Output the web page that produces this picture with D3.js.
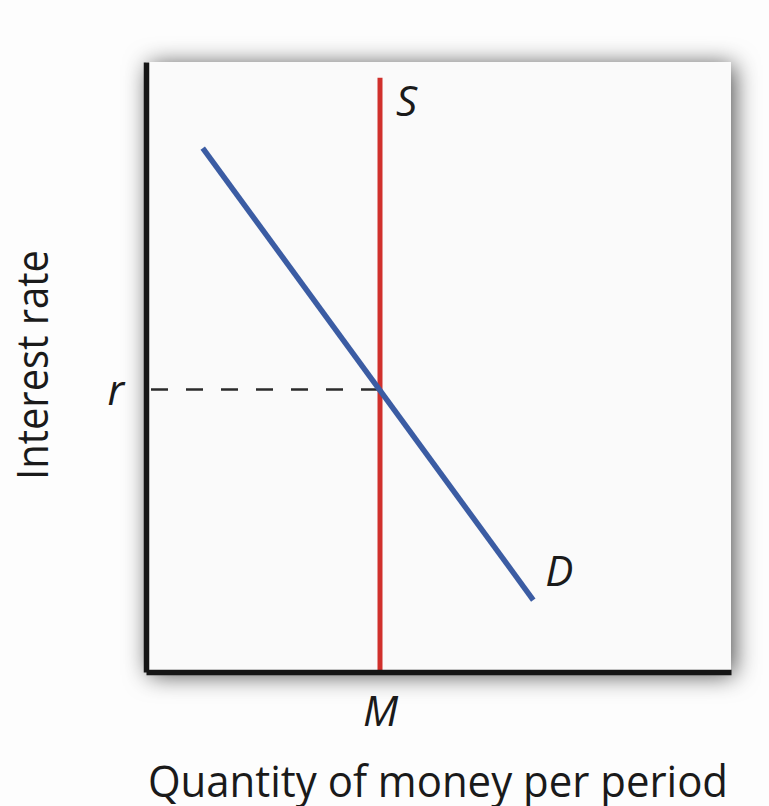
<!DOCTYPE html>
<html>
<head>
<meta charset="utf-8">
<script src="https://cdn.jsdelivr.net/npm/d3@7"></script>
<style>
  html, body { margin: 0; padding: 0; background: #fdfdfd; }
  svg { display: block; }
  text { font-family: "Open Sans", "Noto Sans", sans-serif; fill: #1a1a1a; }
  .lbl { font-style: italic; font-size: 42px; }
</style>
</head>
<body>
<div id="chart"></div>
<script>
// curve data (0-100 units on both axes)
var supplyX = [40, 40];
var supplyY = [0, 97.4];
var demandX = [9.7, 66.2];
var demandY = [85.9, 11.8];
var eqQuantity = 40;
var eqRate = 46.3;
var curveLabels = ["S", "D"];
var tickLabels = { x: "M", y: "r" };
var axisTitles = ["Quantity of money per period", "Interest rate"];

var W = 769, H = 806;
var plotLeft = 146, plotRight = 731, plotTop = 62, plotBottom = 672;

var svg = d3.select("#chart").append("svg")
	.attr("width", W)
	.attr("height", H);

var defs = svg.append("defs");
var f = defs.append("filter").attr("id", "shadow")
	.attr("x", "-25%").attr("y", "-25%").attr("width", "150%").attr("height", "150%");
f.append("feDropShadow")
	.attr("dx", 3).attr("dy", 3)
	.attr("stdDeviation", 12)
	.attr("flood-color", "#000")
	.attr("flood-opacity", 0.72);

var x = d3.scaleLinear().domain([0, 100]).range([plotLeft, plotRight]);
var y = d3.scaleLinear().domain([0, 100]).range([plotBottom, plotTop]);

// panel with drop shadow
svg.append("rect")
	.attr("x", x(0))
	.attr("y", y(100))
	.attr("width", x(100) - x(0))
	.attr("height", y(0) - y(100))
	.attr("fill", "#fafafa")
	.attr("filter", "url(#shadow)");

// dashed guide from y axis to equilibrium
svg.append("line")
	.attr("x1", x(0) + 5)
	.attr("x2", x(eqQuantity))
	.attr("y1", y(eqRate))
	.attr("y2", y(eqRate))
	.attr("stroke", "#2b2b2b")
	.attr("stroke-width", 2.5)
	.attr("stroke-dasharray", "17,18");

var line = d3.line()
	.x(function(d) { return x(d[0]); })
	.y(function(d) { return y(d[1]); });

// supply (vertical)
svg.append("path")
	.datum(d3.zip(supplyX, supplyY))
	.attr("d", line)
	.attr("fill", "none")
	.attr("stroke", "#d0302c")
	.attr("stroke-width", 5);

// demand
svg.append("path")
	.datum(d3.zip(demandX, demandY))
	.attr("d", line)
	.attr("fill", "none")
	.attr("stroke", "#3b5ca3")
	.attr("stroke-width", 5.5);

// axes
var xAxis = svg.append("g")
	.attr("transform", "translate(0," + y(0) + ")")
	.call(d3.axisBottom(x).tickValues([eqQuantity]).tickFormat(function() { return tickLabels.x; })
		.tickSize(0).tickSizeOuter(0).tickPadding(24));
var yAxis = svg.append("g")
	.attr("transform", "translate(" + x(0) + ",0)")
	.call(d3.axisLeft(y).tickValues([eqRate]).tickFormat(function() { return tickLabels.y; })
		.tickSize(0).tickSizeOuter(0).tickPadding(22));

[xAxis, yAxis].forEach(function(g) {
	g.select(".domain").attr("stroke", "#151515").attr("stroke-width", 5.5);
	g.selectAll(".tick text")
		.attr("class", "lbl")
		.attr("fill", "#1a1a1a")
		.style("font-family", "'Open Sans', sans-serif");
});
yAxis.selectAll(".tick text").attr("dy", "0.35em");

// curve labels
svg.append("text")
	.attr("class", "lbl")
	.attr("x", x(supplyX[1]) + 16)
	.attr("y", y(supplyY[1]) + 38)
	.text(curveLabels[0]);
svg.append("text")
	.attr("class", "lbl")
	.attr("x", x(demandX[1]) + 12)
	.attr("y", y(demandY[1]) - 14)
	.text(curveLabels[1]);

// axis titles
svg.append("text")
	.attr("x", plotLeft + 2)
	.attr("y", 797)
	.attr("font-size", 44)
	.attr("textLength", 580)
	.attr("lengthAdjust", "spacingAndGlyphs")
	.text(axisTitles[0]);

svg.append("text")
	.attr("transform", "translate(48,480) rotate(-90)")
	.attr("font-size", 44)
	.attr("textLength", 230)
	.attr("lengthAdjust", "spacingAndGlyphs")
	.text(axisTitles[1]);
</script>
</body>
</html>
